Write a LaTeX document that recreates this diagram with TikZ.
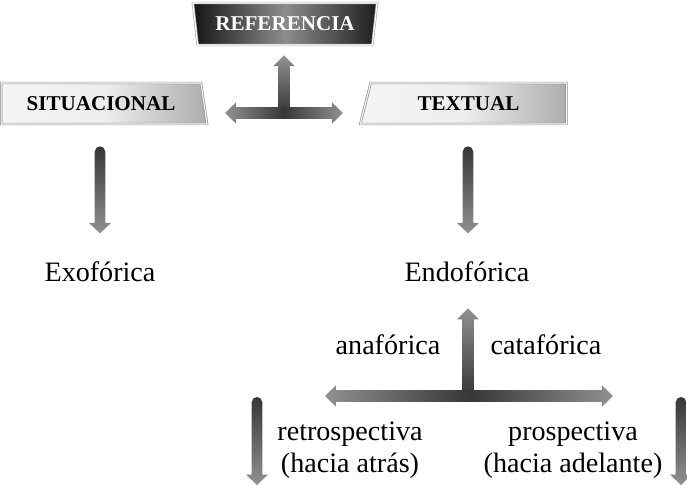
\documentclass[tikz,border=0pt]{standalone}
\usepackage{fontspec}
\setmainfont{Liberation Serif}
\usetikzlibrary{calc,shapes.geometric}
\definecolor{adark}{RGB}{55,55,55}
\definecolor{alight}{RGB}{145,145,145}

\newcommand{\fatdown}[2]{%
  \shade[top color=adark, bottom color=alight]
    let \p1=(#1), \p2=(#2) in
    (\x1-3pt,\y1-3pt) arc[start angle=180, end angle=0, radius=3pt]
    -- (\x1+3pt,\y2+5.9pt) -- (\x1+6.2pt,\y2+5.9pt) -- (\x1,\y2)
    -- (\x1-6.2pt,\y2+5.9pt) -- (\x1-3pt,\y2+5.9pt) -- cycle;}
\newcommand{\fatup}[2]{%
  \shade[top color=alight, bottom color=adark]
    let \p1=(#1), \p2=(#2) in
    (\x1-3.3pt,\y1) -- (\x1-3.3pt,\y2-6.2pt) -- (\x1-6.2pt,\y2-6.2pt) -- (\x1,\y2)
    -- (\x1+6.2pt,\y2-6.2pt) -- (\x1+3.3pt,\y2-6.2pt) -- (\x1+3.3pt,\y1) -- cycle;}
\newcommand{\fatboth}[2]{%
  \shade[left color=alight, right color=alight, middle color=adark]
    let \p1=(#1), \p2=(#2) in
    (\x1,\y1) -- (\x1+6.2pt,\y1+6pt) -- (\x1+6.2pt,\y1+3.3pt) -- (\x2-6.2pt,\y1+3.3pt)
    -- (\x2-6.2pt,\y1+6pt) -- (\x2,\y1) -- (\x2-6.2pt,\y1-6pt) -- (\x2-6.2pt,\y1-3.3pt)
    -- (\x1+6.2pt,\y1-3.3pt) -- (\x1+6.2pt,\y1-6pt) -- cycle;}

\begin{document}
\begin{tikzpicture}[x=0.02cm, y=0.02cm,
  box/.style={trapezium, trapezium stretches=true, draw=black!45, double=white,
    double distance=0.6pt, minimum width=4.14cm, minimum height=0.82cm, inner sep=0pt,
    left color=black!4, right color=black!32, middle color=black!7,
    font=\fontsize{12}{14}\selectfont\bfseries},
  word/.style={font=\fontsize{16}{18}\selectfont, inner sep=0pt, align=center}]
  \useasboundingbox (0,0) rectangle (687,-484);

  \node[box, shape border rotate=180, trapezium left angle=75, trapezium right angle=75,
    minimum width=3.7cm, minimum height=0.84cm, draw=black!30, left color=black!92,
    right color=black!88, middle color=black!45, text=white] (ref) at (285,-24) {REFERENCIA};
  \node[box, trapezium left angle=90, trapezium right angle=72] (sit) at (101,-103.5) {SITUACIONAL};
  \node[box, trapezium left angle=69, trapezium right angle=90] (tex) at (468.5,-103.5) {TEXTUAL};

  \node[word] (exo) at (100,-272) {Exofórica};
  \node[word] (endo) at (467,-272) {Endofórica};
  \node[word] (ana) at (388,-345) {anafórica};
  \node[word] (cata) at (546,-345) {catafórica};
  \node[word] (retro) at (350,-450) {retrospectiva\\(hacia atrás)};
  \node[word] (pros) at (573,-450) {prospectiva\\(hacia adelante)};

  \coordinate (hub) at (284,-113);
  \coordinate (fork) at (468,-396);

  \fatup{hub}{$(ref.south)+(0,-10)$}
  \fatboth{$(hub)+(-59,0)$}{$(hub)+(59,0)$}
  \fatdown{$(sit.south -| exo)+(0,-22)$}{$(sit.south -| exo)+(0,-109)$}
  \fatdown{$(tex.south -| fork)+(0,-22)$}{$(tex.south -| fork)+(0,-109)$}

  \fatup{fork}{$(endo.south)+(0,-26)$}
  \fatboth{$(fork)+(-143,0)$}{$(fork)+(145,0)$}
  \fatdown{$(fork)+(-211,-1)$}{$(fork)+(-211,-89)$}
  \fatdown{$(fork)+(213,-1)$}{$(fork)+(213,-89)$}
\end{tikzpicture}
\end{document}
